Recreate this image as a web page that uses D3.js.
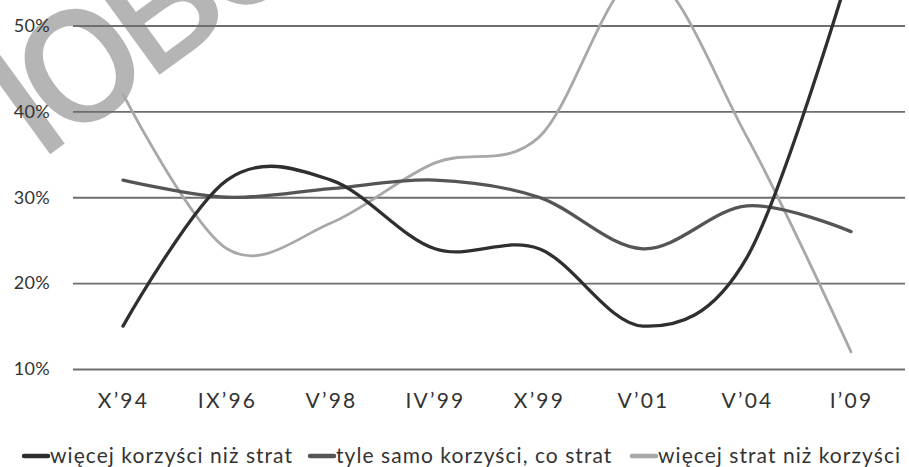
<!DOCTYPE html>
<html>
<head>
<meta charset="utf-8">
<script src="https://cdn.jsdelivr.net/npm/d3@7"></script>
<style>
  body { margin: 0; background: #fff; }
  text { font-family: Lato, "Liberation Sans", sans-serif; fill: #333; }
</style>
</head>
<body>
<div id="chart"></div>
<script>
// survey waves
const categories = ["X’94", "IX’96", "V’98", "IV’99", "X’99", "V’01", "V’04", "I’09"];
const seriesNames = ["więcej korzyści niż strat", "tyle samo korzyści, co strat", "więcej strat niż korzyści"];
// percent values
const moreBenefits = [15, 32, 32, 24, 24, 15, 23, 57];
const equalBoth = [32, 30, 31, 32, 30, 24, 29, 26];
const moreLosses = [42, 24, 27, 34, 37, 56, 37, 12];
const yTicks = [10, 20, 30, 40, 50];
const colors = ["#2f2f2f", "#555555", "#a8a8a8"];

const width = 909, height = 467;
const svg = d3.select('#chart').append('svg')
    .attr('width', width)
    .attr('height', height);

// watermark behind everything
svg.append('text')
    .attr('transform', 'translate(-98,262) rotate(-36)')
    .style('font-family', '"DejaVu Sans", sans-serif')
    .style('font-size', '200px')
    .style('letter-spacing', '-20px')
    .style('fill', '#b5b5b5')
    .text('слово');

const x = d3.scalePoint().domain(categories).range([71, 903]).padding(0.5);
const y = d3.scaleLinear().domain([10, 50]).range([369, 25.5]);

const yAxis = d3.axisLeft(y)
    .tickValues(yTicks)
    .tickFormat(d => d + '%')
    .tickSize(-832)
    .tickPadding(23);
const gy = svg.append('g').attr('transform', 'translate(73,0)').call(yAxis);
gy.select('.domain').remove();
gy.selectAll('line').attr('stroke', '#6e6e6e').attr('stroke-width', 1.8);
gy.selectAll('text').style('font-size', '18px').style('letter-spacing', '0.3px').style('fill', '#333');

const xAxis = d3.axisBottom(x).tickSize(0).tickPadding(24);
const gx = svg.append('g').attr('transform', 'translate(0,369)').call(xAxis);
gx.select('.domain').remove();
gx.selectAll('text').style('font-size', '21px').style('letter-spacing', '2.2px').style('fill', '#333');

const series = [moreBenefits, equalBoth, moreLosses];
const line = d3.line()
    .x((d, i) => x(categories[i]))
    .y(d => y(d))
    .curve(d3.curveCardinal.tension(0));

// light line drawn first so the darker ones sit on top
[2, 1, 0].forEach(k => {
    svg.append('path')
        .datum(series[k])
        .attr('fill', 'none')
        .attr('stroke', colors[k])
        .attr('stroke-width', k === 2 ? 2.8 : 3.3)
        .attr('stroke-linecap', 'round')
        .attr('d', line);
});

// legend
const legendX = [22, 308, 630];
const legend = svg.append('g');
seriesNames.forEach((name, k) => {
    const g = legend.append('g').attr('transform', 'translate(' + legendX[k] + ',456)');
    g.append('line')
        .attr('x1', 2).attr('x2', 26)
        .attr('stroke', colors[k])
        .attr('stroke-width', 4.5)
        .attr('stroke-linecap', 'round');
    g.append('text')
        .attr('x', 28)
        .attr('dy', '0.32em')
        .style('font-size', '21px')
        .style('letter-spacing', '1.05px')
        .text(name);
});
</script>
</body>
</html>
